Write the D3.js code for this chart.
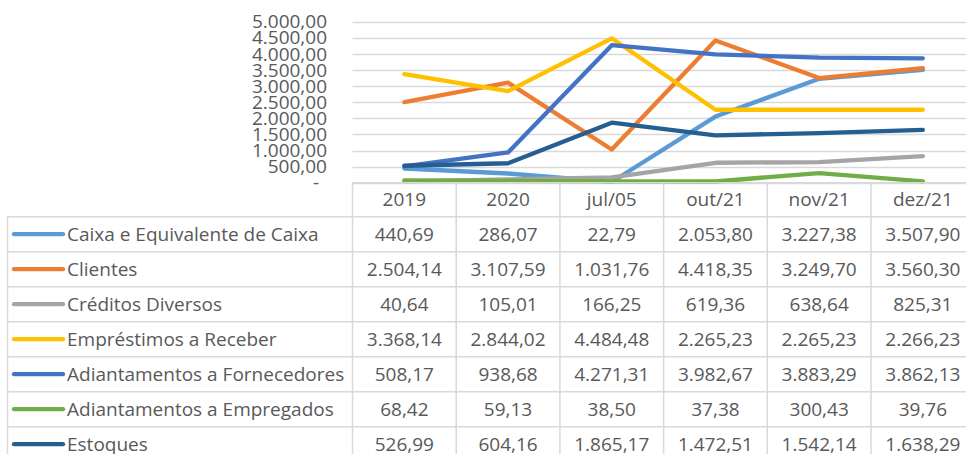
<!DOCTYPE html>
<html><head><meta charset="utf-8">
<script src="https://cdn.jsdelivr.net/npm/d3@7"></script>
<style>body{margin:0;background:#fff}svg{display:block}text{font-family:"Open Sans",sans-serif;fill:#595959}</style>
</head><body><svg id="c" width="966" height="454"></svg>
<script>
const categories = ["2019","2020","jul/05","out/21","nov/21","dez/21"];
const seriesNames = ["Caixa e Equivalente de Caixa","Clientes","Créditos Diversos","Empréstimos a Receber","Adiantamentos a Fornecedores","Adiantamentos a Empregados","Estoques"];
const caixa = [440.69,286.07,22.79,2053.80,3227.38,3507.90];
const clientes = [2504.14,3107.59,1031.76,4418.35,3249.70,3560.30];
const creditos = [40.64,105.01,166.25,619.36,638.64,825.31];
const emprestimos = [3368.14,2844.02,4484.48,2265.23,2265.23,2266.23];
const fornecedores = [508.17,938.68,4271.31,3982.67,3883.29,3862.13];
const empregados = [68.42,59.13,38.50,37.38,300.43,39.76];
const estoques = [526.99,604.16,1865.17,1472.51,1542.14,1638.29];
const seriesValues = [caixa,clientes,creditos,emprestimos,fornecedores,empregados,estoques];
const colors = ["#5B9BD5","#ED7D31","#A5A5A5","#FFC000","#4472C4","#70AD47","#255E91"];
const yTicks = [0,500,1000,1500,2000,2500,3000,3500,4000,4500,5000];

const svg = d3.select("#c");
const loc = d3.formatLocale({decimal:",",thousands:".",grouping:[3],currency:["",""]});
const fmt = loc.format(",.2f");

const plotLeft = 352.5, colW = 103.7, yTop = 21.7, yBot = 182.7;
const x = d3.scaleBand().domain(categories).range([plotLeft, plotLeft + colW*categories.length]);
const y = d3.scaleLinear().domain([0,5000]).range([yBot, yTop]);
const grid = "#D9D9D9";
const FS = 19;

svg.append("g").selectAll("line").data(yTicks).join("line")
  .attr("x1", plotLeft).attr("x2", 966)
  .attr("y1", d=>Math.round(y(d))+0.5).attr("y2", d=>Math.round(y(d))+0.5)
  .attr("stroke", grid).attr("stroke-width", 1.5);

svg.append("g").selectAll("text").data(yTicks).join("text")
  .attr("x", d=> d===0 ? 319 : 327).attr("y", d=>y(d)).attr("dy","0.35em")
  .attr("text-anchor","end").style("font-size", FS+"px")
  .text(d=> d===0 ? "-" : fmt(d));

const line = d3.line().x((d,i)=>x(categories[i])+x.bandwidth()/2).y(d=>y(d));
svg.append("g").selectAll("path").data(seriesValues).join("path")
  .attr("d", d=>line(d)).attr("fill","none")
  .attr("stroke",(d,i)=>colors[i]).attr("stroke-width",4.3)
  .attr("stroke-linejoin","round").attr("stroke-linecap","round");

const tableTop = 182.7, headH = 34, rowH = 35, legLeft = 7.5;
const rowsTop = tableTop + headH;
const tg = svg.append("g");
tg.append("line").attr("x1",plotLeft).attr("x2",966).attr("y1",tableTop).attr("y2",tableTop).attr("stroke",grid).attr("stroke-width",1.5);
for (let r=0; r<=seriesNames.length; r++) {
  tg.append("line").attr("x1",legLeft).attr("x2",966).attr("y1",rowsTop+r*rowH).attr("y2",rowsTop+r*rowH).attr("stroke",grid).attr("stroke-width",1.5);
}
tg.append("line").attr("x1",legLeft).attr("x2",legLeft).attr("y1",rowsTop).attr("y2",454).attr("stroke",grid).attr("stroke-width",1.5);
categories.forEach(c=>{
  tg.append("line").attr("x1",x(c)).attr("x2",x(c)).attr("y1",tableTop).attr("y2",454).attr("stroke",grid).attr("stroke-width",1.5);
});
tg.selectAll("text.h").data(categories).join("text").attr("class","h")
  .attr("x", d=>x(d)+x.bandwidth()/2).attr("y", tableTop+headH/2).attr("dy","0.35em")
  .attr("text-anchor","middle").style("font-size",FS+"px").text(d=>d);
seriesNames.forEach((name,i)=>{
  const cy = rowsTop + i*rowH + rowH/2;
  tg.append("line").attr("x1",14).attr("x2",63).attr("y1",cy).attr("y2",cy)
    .attr("stroke",colors[i]).attr("stroke-width",4.3).attr("stroke-linecap","round");
  tg.append("text").attr("x",67).attr("y",cy).attr("dy","0.35em").style("font-size",FS+"px").text(name);
  seriesValues[i].forEach((v,j)=>{
    tg.append("text").attr("x", x(categories[j])+x.bandwidth()/2).attr("y",cy).attr("dy","0.35em")
      .attr("text-anchor","middle").style("font-size",FS+"px").text(fmt(v));
  });
});
</script></body></html>
